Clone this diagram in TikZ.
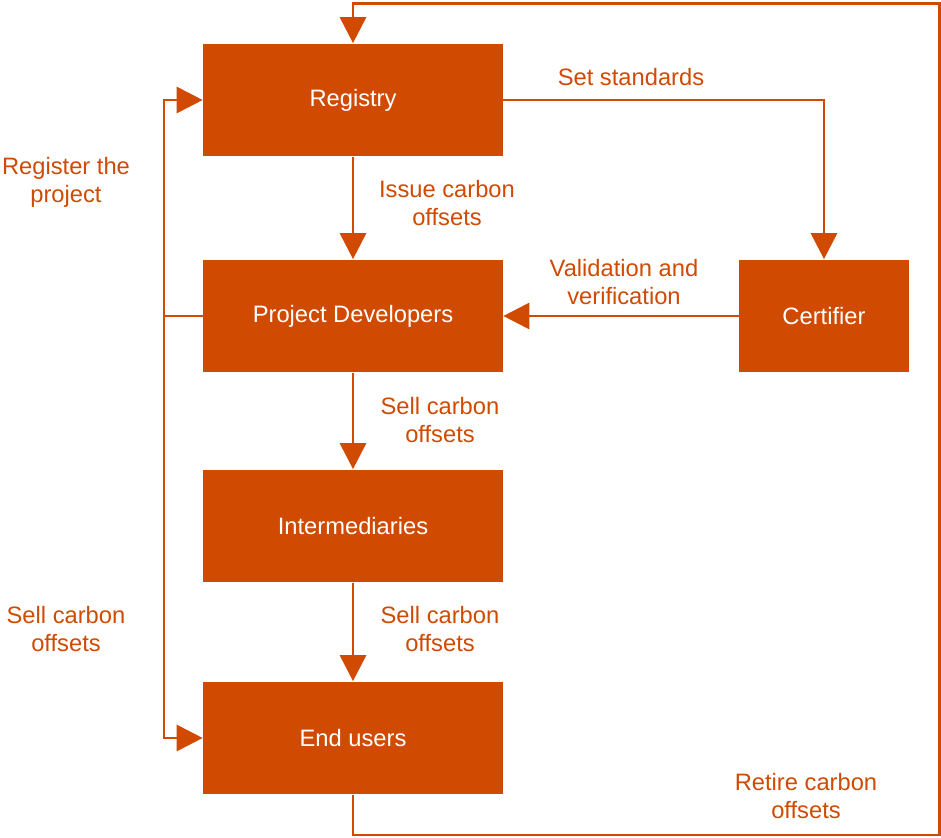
\documentclass[tikz,border=0pt]{standalone}
\usepackage{fontspec}
\setmainfont{Liberation Sans}
\usepackage{xcolor}
\usepackage{tikz}
\usetikzlibrary{arrows.meta}
\definecolor{offsetorange}{HTML}{D04A02}

\begin{document}
\begin{tikzpicture}[x=0.02cm, y=-0.02cm,
    box/.style={fill=offsetorange, text=white, inner sep=0pt, minimum width=6cm, minimum height=2.26cm, font=\fontsize{13.5}{16}\selectfont},
    flow/.style={draw=offsetorange, line width=1.7pt, -{Triangle[length=14.8pt,width=14.8pt]}},
    lbl/.style={text=offsetorange, align=center, font=\fontsize{13.5}{16}\selectfont}]
                        \useasboundingbox (0,0) rectangle (941,838);
                        % boxes
                        \node[box] (registry) at (353,100) {Registry};
                        \node[box] (developers) at (353,316) {Project Developers};
                        \node[box] (intermed) at (353,526) {Intermediaries};
                        \node[box] (endusers) at (353,738) {End users};
                        \node[box, minimum width=3.4cm] (certifier) at (824,316) {Certifier};
                        % corners of the lines
                        \coordinate (leftjoin) at (164,316);
                        \coordinate (loopbr) at (939.5,835);
                        \coordinate (looptr) at (939.5,3.5);
                        % arrows
                        \draw[flow] (registry) -- (developers);
                        \draw[flow] (developers) -- (intermed);
                        \draw[flow] (intermed) -- (endusers);
                        \draw[flow] (registry.east) -| (certifier.north);
                        \draw[flow] (certifier) -- (developers);
                        \draw[flow] (developers.west) -- (leftjoin) |- (registry.west);
                        \draw[flow] (leftjoin) |- (endusers.west);
                        \draw[flow] (endusers.south) |- (loopbr) -- (looptr) -| (registry.north);
                        % labels
                        \node[lbl] (issuelbl) at (447,203) {Issue carbon\\offsets};
                        \node[lbl] (stdlbl) at (631,77) {Set standards};
                        \node[lbl] (validlbl) at (624,282) {Validation and\\verification};
                        \node[lbl] (sell1lbl) at (440,420) {Sell carbon\\offsets};
                        \node[lbl] (sell2lbl) at (440,629) {Sell carbon\\offsets};
                        \node[lbl] (reglbl) at (66,182) {Register the\\project};
                        \node[lbl] (sell3lbl) at (66,629) {Sell carbon\\offsets};
                        \node[lbl] (retirelbl) at (806,796) {Retire carbon\\offsets};
\end{tikzpicture}
\end{document}
